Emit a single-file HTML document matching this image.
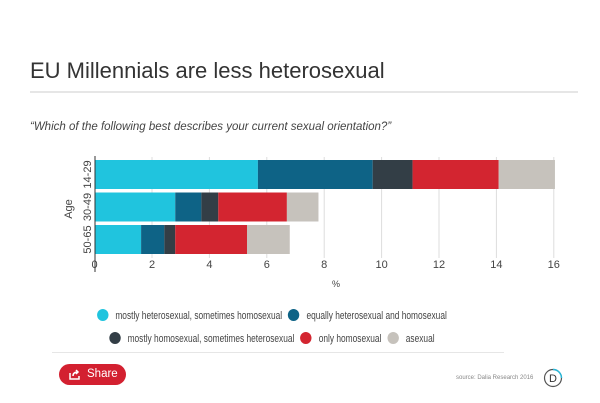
<!DOCTYPE html>
<html><head><meta charset="utf-8"><style>
body{margin:0;width:600px;height:403px;background:#fff;font-family:"Liberation Sans",sans-serif;position:relative;overflow:hidden}
.abs{position:absolute}
.row{position:absolute;left:275px;white-space:nowrap;transform:translateX(-50%) scaleX(0.76);transform-origin:center}
</style></head><body>
<div class="abs" style="left:30px;top:58px;font-size:22px;color:#333;font-weight:300">EU Millennials are less heterosexual</div>
<div class="abs" style="left:30px;top:91px;width:548px;height:2px;background:#e6e6e6"></div>
<div class="abs" style="left:30px;top:121px;font-size:11.5px;font-style:italic;color:#444">“Which of the following best describes your current sexual orientation?”</div>
<svg class="abs" style="left:0;top:0" width="600" height="403" id="chart"></svg>
<div class="abs" style="left:0;top:309px;width:600px;font-size:11px;color:#444">
<div class="row" style="top:0" id="leg1"></div>
<div class="row" style="top:23px" id="leg2"></div>
</div>
<div class="abs" style="left:52px;top:352px;width:452px;height:1px;background:#e6e6e6"></div>
<div class="abs" style="left:59px;top:364px;width:67px;height:21px;border-radius:11px;background:#d32030;color:#fff;font-size:11.5px;line-height:21px">
<svg style="position:absolute;left:10px;top:5px" width="11" height="11" viewBox="0 0 11 11"><path d="M1 4v6h9V7" fill="none" stroke="#fff" stroke-width="1.5"/><path d="M4 7c0-3 2-4 5-4M7 1l2 2-2 2" fill="none" stroke="#fff" stroke-width="1.5"/></svg>
<span style="position:absolute;left:28px">Share</span></div>
<div class="abs" style="left:456px;top:375px;font-size:6px;color:#888">source: Dalia Research 2016</div>
<svg class="abs" style="left:543px;top:368px" width="20" height="20"><circle cx="10" cy="10" r="8.5" fill="none" stroke="#555" stroke-width="1.2"/><path d="M10 1.5A8.5 8.5 0 0 1 18.5 10" fill="none" stroke="#2ab7d8" stroke-width="1.5"/><text x="10" y="14" font-size="11" text-anchor="middle" fill="#333" font-family="Liberation Sans">D</text></svg>
<script>
const categories=["14-29","30-49","50-65"];
const seriesNames=["mostly heterosexual, sometimes homosexual","equally heterosexual and homosexual","mostly homosexual, sometimes heterosexual","only homosexual","asexual"];
const s1=[5.69,2.81,1.62];
const s2=[4.0,0.91,0.81];
const s3=[1.39,0.59,0.38];
const s4=[3.0,2.39,2.5];
const s5=[1.96,1.1,1.49];
const ticks=[0,2,4,6,8,10,12,14,16];
const colors=["#20c4de","#0e6386","#333e46","#d32530","#c6c2bc"];
const series=[s1,s2,s3,s4,s5];
const NS="http://www.w3.org/2000/svg";
const svg=document.getElementById('chart');
const x=v=>94.6+v*28.7;
const y=i=>160+i*32.5;
function mk(t,a){const e=document.createElementNS(NS,t);for(const k in a)e.setAttribute(k,a[k]);svg.appendChild(e);return e;}
ticks.forEach(t=>{
 if(t>0){const g=mk('line',{x1:x(t),x2:x(t),y1:157,y2:258,stroke:'#ddd','stroke-width':1});
 
 }
 const l=mk('text',{x:x(t),y:268,'text-anchor':'middle','font-size':11,fill:'#444','font-family':'Liberation Sans'});l.textContent=t;
 
 
});
categories.forEach((c,i)=>{
 let acc=0;
 series.forEach((s,j)=>{
  const r=mk('rect',{x:x(acc),y:y(i),width:s[i]*28.7,height:29,fill:colors[j]});
  
  
  acc+=s[i];
 });
 const cy=y(i)+14.5;
 const t=mk('text',{x:0,y:0,transform:`translate(91,${cy}) rotate(-90)`,'text-anchor':'middle','font-size':11,fill:'#444','font-family':'Liberation Sans'});
 t.textContent=c;
 
 
});
const ax=mk('line',{x1:95,x2:95,y1:156,y2:272,stroke:'#333','stroke-width':1});


const yt=mk('text',{transform:'translate(72,209) rotate(-90)','text-anchor':'middle','font-size':11,fill:'#444','font-family':'Liberation Sans'});yt.textContent='Age';


const xt=mk('text',{x:336,y:287,'text-anchor':'middle','font-size':9,fill:'#444','font-family':'Liberation Sans'});xt.textContent='%';


seriesNames.forEach((n,j)=>{
 const d=document.createElement('span');
 
 
 d.style.cssText='display:inline-block;margin-right:8px';
 d.innerHTML=`<span style="display:inline-block;width:15px;height:12px;border-radius:50%;background:${colors[j]};vertical-align:-2px;margin-right:9px"></span>${n}`;
 document.getElementById(j<2?'leg1':'leg2').appendChild(d);
});
</script>
</body></html>
